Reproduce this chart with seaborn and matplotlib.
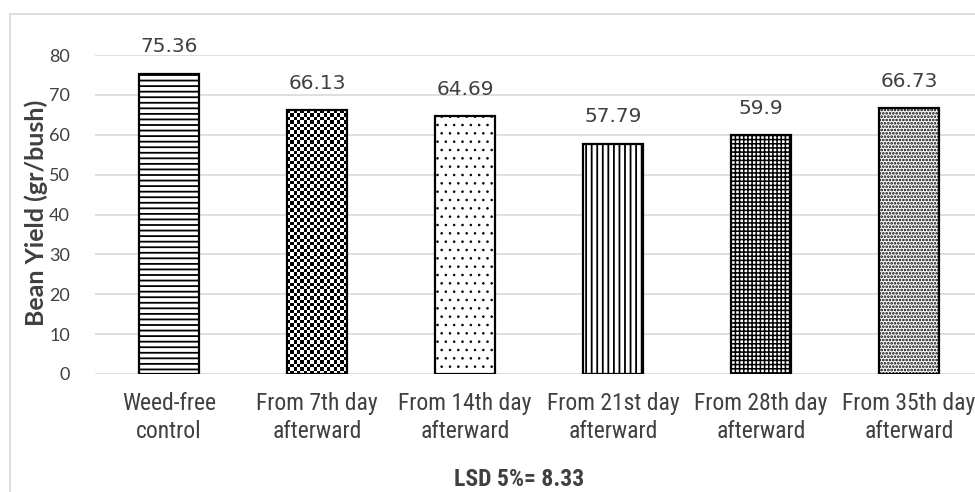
import numpy as np
import matplotlib
matplotlib.use("Agg")
import matplotlib.pyplot as plt
from matplotlib import font_manager
from matplotlib.patches import Rectangle
import seaborn as sns

# Treatments (weed-infested periods) and bean yield per bush
categories = [
    "Weed-free\ncontrol",
    "From 7th day\nafterward",
    "From 14th day\nafterward",
    "From 21st day\nafterward",
    "From 28th day\nafterward",
    "From 35th day\nafterward",
]
yields = [75.36, 66.13, 64.69, 57.79, 59.9, 66.73]
value_labels = ["75.36", "66.13", "64.69", "57.79", "59.9", "66.73"]
y_ticks = [0, 10, 20, 30, 40, 50, 60, 70, 80]
y_title = "Bean Yield (gr/bush)"
x_title = "LSD 5%= 8.33"

sns.set_theme(style="white")
plt.rcParams["hatch.linewidth"] = 1.3
plt.rcParams["font.family"] = ["DejaVu Sans"]

installed = {f.name for f in font_manager.fontManager.ttflist}
narrow = next((f for f in ["Liberation Sans Narrow", "Roboto Condensed", "Open Sans Condensed",
                           "DejaVu Sans Condensed", "Liberation Sans"] if f in installed), "DejaVu Sans")
plain = next((f for f in ["Lato", "Liberation Sans", "Noto Sans"] if f in installed), "DejaVu Sans")

W, H, DPI = 975, 492, 100
fig = plt.figure(figsize=(W / DPI, H / DPI), dpi=DPI)
fig.patch.set_facecolor("white")

# light chart-area frame
fig.patches.append(Rectangle((10 / W, -0.1), 1.2, 1.1 - 14 / H, transform=fig.transFigure,
                             fill=False, edgecolor="#d9d9d9", linewidth=1.2, zorder=0))

ax = fig.add_axes([95 / W, 1 - 374 / H, 888 / W, 319 / H])
ax.set_facecolor("none")

sns.barplot(x=categories, y=yields, ax=ax, width=0.405, color="white",
            edgecolor="black", linewidth=1.6, saturation=1, zorder=2)

patterns = ["---", None, "..", "|||", "++++", "....."]
hatch_widths = [1.3, 1.0, 0.6, 1.3, 1.1, 1.3]
for patch, pat, hw in zip(ax.patches, patterns, hatch_widths):
    patch.set_facecolor("white")
    if pat:
        patch.set_hatch(pat)
        if hasattr(patch, "set_hatch_linewidth"):
            patch.set_hatch_linewidth(hw)

# checkerboard fill for the second bar
chk = ax.patches[1]
ax.set_ylim(0, 80)
ax.set_xlim(-0.5, len(categories) - 0.5)
x0, w, h = chk.get_x(), chk.get_width(), chk.get_height()
p0 = ax.transData.transform((x0, 0))
p1 = ax.transData.transform((x0 + w, h))
ncol = max(2, int(round(abs(p1[0] - p0[0]) / 3.4)))
nrow = max(2, int(round(abs(p1[1] - p0[1]) / 3.4)))
board = (np.add.outer(np.arange(nrow), np.arange(ncol)) % 2).astype(float)
im = ax.imshow(board, cmap="gray", extent=[x0, x0 + w, 0, h], aspect="auto",
               interpolation="nearest", zorder=1.9, vmin=0, vmax=1)
im.set_clip_path(chk)
chk.set_facecolor("none")
ax.set_ylim(0, 80)
ax.set_xlim(-0.5, len(categories) - 0.5)

for i, (v, lab) in enumerate(zip(yields, value_labels)):
    ax.annotate(lab, (i, v), xytext=(0, 12.5), textcoords="offset points",
                ha="center", va="bottom", fontsize=14.5, color="#404040", family="DejaVu Sans")

ax.set_yticks(y_ticks)
ax.set_yticklabels([str(t) for t in y_ticks], fontsize=13, color="#404040", family=plain)
ax.tick_params(axis="y", length=0, pad=18)
ax.tick_params(axis="x", length=0, pad=13)
for t in ax.get_xticklabels():
    t.set_fontsize(17)
    t.set_family(narrow)
    t.set_color("#404040")
    t.set_linespacing(1.3)

ax.yaxis.grid(True, color="#d9d9d9", linewidth=1.2, zorder=0)
ax.set_axisbelow(True)
for s in ax.spines.values():
    s.set_visible(False)

ax.set_ylabel("")
ax.set_xlabel("")
fig.text(36 / W, 1 - 213 / H, y_title, rotation=90, ha="center", va="center",
         fontsize=18, fontweight="bold", color="#404040", family=plain)
fig.text(519 / W, 1 - 480 / H, x_title, ha="center", va="center",
         fontsize=17, fontweight="bold", color="#404040", family=narrow)

fig.savefig("out.png", dpi=DPI)
